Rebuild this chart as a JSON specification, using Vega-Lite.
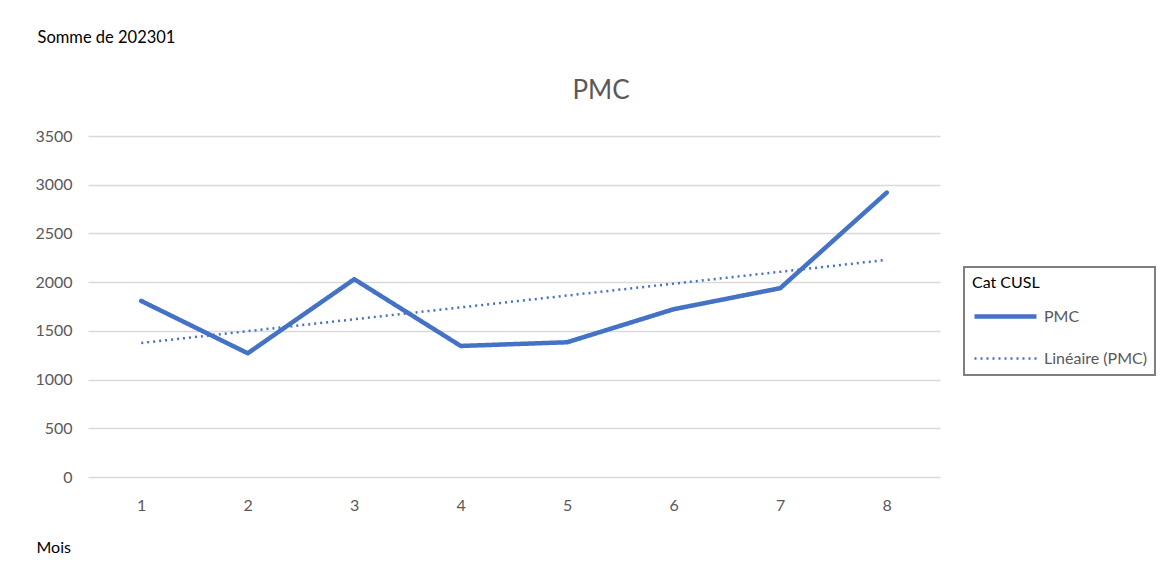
{
  "$schema": "https://vega.github.io/schema/vega-lite/v6.json",
  "width": 852,
  "height": 341,
  "autosize": {"type": "none"},
  "padding": {"left": 88, "top": 136, "right": 227, "bottom": 89},
  "background": "white",
  "title": {
    "text": "PMC",
    "font": "Lato",
    "fontSize": 26,
    "fontWeight": "normal",
    "color": "#595959",
    "anchor": "middle",
    "frame": "group",
    "dx": 87,
    "offset": -75
  },
  "config": {
    "view": {"stroke": null},
    "font": "Lato",
    "legend": {
      "orient": "none",
      "legendX": 876,
      "legendY": 131,
      "strokeColor": "#7f7f7f",
      "strokeWidth": 2,
      "fillColor": "white",
      "padding": 8,
      "titleFont": "Lato",
      "titleFontSize": 16,
      "titleFontWeight": 400,
      "titleColor": "#000000",
      "titlePadding": -8,
      "labelFont": "Lato",
      "labelFontSize": 16,
      "labelColor": "#595959",
      "labelOffset": 5,
      "symbolType": "stroke",
      "symbolSize": 3844,
      "rowPadding": -1
    }
  },
  "data": {
    "values": [
      {"Mois": 1, "PMC": 1807},
      {"Mois": 2, "PMC": 1270},
      {"Mois": 3, "PMC": 2030},
      {"Mois": 4, "PMC": 1345},
      {"Mois": 5, "PMC": 1383},
      {"Mois": 6, "PMC": 1722},
      {"Mois": 7, "PMC": 1938},
      {"Mois": 8, "PMC": 2919}
    ]
  },
  "encoding": {
    "x": {
      "field": "Mois",
      "type": "quantitative",
      "scale": {"domain": [0.5, 8.5], "nice": false, "zero": false},
      "axis": {
        "values": [1, 2, 3, 4, 5, 6, 7, 8],
        "format": "d",
        "grid": false,
        "domain": false,
        "ticks": false,
        "labelFont": "Lato",
        "labelFontSize": 16,
        "labelColor": "#595959",
        "labelPadding": 20,
        "title": "Mois",
        "titleFont": "Lato",
        "titleFontSize": 16,
        "titleFontWeight": "normal",
        "titleColor": "#000000",
        "titleAnchor": "start",
        "titleAlign": "left",
        "titleBaseline": "middle",
        "titleX": -52,
        "titleY": 70
      }
    },
    "y": {
      "field": "PMC",
      "type": "quantitative",
      "scale": {"domain": [0, 3500], "nice": false},
      "axis": {
        "values": [0, 500, 1000, 1500, 2000, 2500, 3000, 3500],
        "format": "d",
        "grid": true,
        "gridColor": "#d9d9d9",
        "gridWidth": 1.5,
        "domain": false,
        "ticks": false,
        "labelFont": "Lato",
        "labelFontSize": 16,
        "labelColor": "#595959",
        "labelPadding": 16,
        "title": "Somme de 202301",
        "titleFont": "Lato",
        "titleFontSize": 16.5,
        "titleFontWeight": "normal",
        "titleColor": "#000000",
        "titleAngle": 0,
        "titleAnchor": "start",
        "titleAlign": "left",
        "titleBaseline": "middle",
        "titleX": -51,
        "titleY": -99
      }
    }
  },
  "layer": [
    {
      "mark": {"type": "line", "strokeJoin": "round", "strokeCap": "round"},
      "encoding": {
        "color": {
          "datum": "PMC",
          "scale": {"domain": ["PMC", "Linéaire (PMC)"], "range": ["#4472C4", "#4472C4"]},
          "legend": {"title": "Cat CUSL", "titleFontWeight": 400}
        },
        "strokeDash": {
          "datum": "PMC",
          "scale": {"domain": ["PMC", "Linéaire (PMC)"], "range": [[1, 0], [2, 4]]},
          "legend": {"title": "Cat CUSL", "titleFontWeight": 400}
        },
        "strokeWidth": {
          "datum": "PMC",
          "scale": {"domain": ["PMC", "Linéaire (PMC)"], "range": [4.5, 2.5]},
          "legend": {"title": "Cat CUSL", "titleFontWeight": 400}
        }
      }
    },
    {
      "transform": [
        {"regression": "PMC", "on": "Mois", "method": "linear", "extent": [1, 8]}
      ],
      "mark": {"type": "line"},
      "encoding": {
        "color": {"datum": "Linéaire (PMC)"},
        "strokeDash": {"datum": "Linéaire (PMC)"},
        "strokeWidth": {"datum": "Linéaire (PMC)"}
      }
    }
  ]
}
